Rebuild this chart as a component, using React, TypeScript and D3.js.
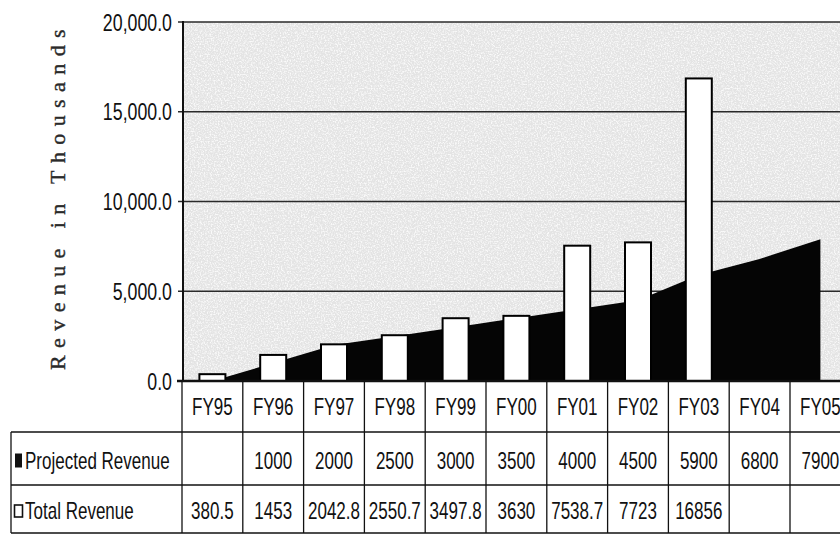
import React from 'react';
import * as d3 from 'd3';

const categories = ['FY95', 'FY96', 'FY97', 'FY98', 'FY99', 'FY00', 'FY01', 'FY02', 'FY03', 'FY04', 'FY05'];
const projectedRevenue: (number | null)[] = [null, 1000, 2000, 2500, 3000, 3500, 4000, 4500, 5900, 6800, 7900];
const totalRevenue: (number | null)[] = [380.5, 1453, 2042.8, 2550.7, 3497.8, 3630, 7538.7, 7723, 16856, null, null];
const yTicks = [0, 5000, 10000, 15000, 20000];
const seriesNames = ['Projected Revenue', 'Total Revenue'];

const W = 840;
const H = 534;
const plot = { left: 183, top: 22, bottom: 381 };
const tableRows = { header: 432, mid: 485, bottom: 533 };
const tableLeft = 11;

// no narrow font installed: squeeze Liberation Sans horizontally instead
const NText: React.FC<{
	x: number;
	y: number;
	anchor?: 'start' | 'middle' | 'end';
	size?: number;
	children: React.ReactNode;
}> = ({ x, y, anchor = 'middle', size = 23, children }) => (
	<text
		transform={`translate(${x},${y}) scale(0.74,1)`}
		dy="0.36em"
		textAnchor={anchor}
		fontFamily='"Liberation Sans", Arial, sans-serif'
		fontSize={size}
		fill="#111"
	>
		{children}
	</text>
);

const App: React.FC = () => {
	const x = d3.scaleBand<string>().domain(categories).range([182, 182 + 60.8 * categories.length]).padding(0);
	const y = d3.scaleLinear().domain([0, 20000]).range([plot.bottom, plot.top]);
	const cx = (c: string) => (x(c) ?? 0) + x.bandwidth() / 2;
	const barW = 26;

	const areaGen = d3
		.area<string>()
		.x((c) => cx(c))
		.y0(y(0))
		.y1((c, i) => y(projectedRevenue[i] ?? 0));

	const fmt = d3.format(',.1f');
	const fmtCell = (v: number | null) => (v === null ? '' : String(v));

	return (
		<div style={{ position: 'absolute', left: 0, top: 0 }}>
			<svg width={W} height={H} style={{ display: 'block', background: '#fff' }}>
				<defs>
					<filter id="grain" x="0" y="0" width="100%" height="100%">
						<feTurbulence type="fractalNoise" baseFrequency="0.7" numOctaves="2" seed="3" result="n" />
						<feColorMatrix
							in="n"
							type="matrix"
							values="0 0 0 0 1  0 0 0 0 1  0 0 0 0 1  0 0 0 3 -1.3"
						/>
					</filter>
				</defs>

				{/* plot background */}
				<rect x={plot.left} y={plot.top} width={W - plot.left} height={plot.bottom - plot.top} fill="#e4e4e4" />
				<rect
					x={plot.left}
					y={plot.top}
					width={W - plot.left}
					height={plot.bottom - plot.top}
					filter="url(#grain)"
					opacity={0.85}
				/>

				{/* gridlines */}
				{yTicks.slice(1).map((t) => (
					<line key={t} x1={plot.left - 5} x2={W} y1={y(t)} y2={y(t)} stroke="#2a2a2a" strokeWidth={1.6} />
				))}

				{/* projected area */}
				<path d={areaGen(categories) ?? ''} fill="#050505" />

				{/* total bars */}
				{categories.map((c, i) => {
					const v = totalRevenue[i];
					if (v === null) return null;
					return (
						<rect
							key={c}
							x={cx(c) - barW / 2}
							y={y(v)}
							width={barW}
							height={y(0) - y(v)}
							fill="#fff"
							stroke="#000"
							strokeWidth={2}
						/>
					);
				})}

				{/* axes */}
				<line x1={plot.left} x2={plot.left} y1={plot.top - 1} y2={plot.bottom} stroke="#111" strokeWidth={2} />
				<line x1={plot.left - 6} x2={W} y1={plot.bottom} y2={plot.bottom} stroke="#111" strokeWidth={2.5} />
				{yTicks.map((t) => (
					<NText key={t} x={plot.left - 11} y={y(t)} anchor="end" size={24}>
						{fmt(t)}
					</NText>
				))}
				<text
					transform="translate(57, 196) rotate(-90)"
					textAnchor="middle"
					dy="0.35em"
					fontFamily='"Liberation Serif", "DejaVu Serif", serif'
					fontSize={22}
					letterSpacing={7.4}
					fill="#2a2a2a"
					stroke="#2a2a2a"
					strokeWidth={0.4}
				>
					Revenue in Thousands
				</text>

				{/* data table */}
				{categories.map((c) => (
					<line
						key={'v' + c}
						x1={x(c) ?? 0}
						x2={x(c) ?? 0}
						y1={plot.bottom}
						y2={tableRows.bottom}
						stroke="#111"
						strokeWidth={1.3}
					/>
				))}
				<line x1={tableLeft} x2={W} y1={tableRows.header} y2={tableRows.header} stroke="#111" strokeWidth={1.3} />
				<line x1={tableLeft} x2={W} y1={tableRows.mid} y2={tableRows.mid} stroke="#111" strokeWidth={1.3} />
				<line x1={tableLeft} x2={W} y1={tableRows.bottom} y2={tableRows.bottom} stroke="#111" strokeWidth={1.3} />
				<line x1={tableLeft} x2={tableLeft} y1={tableRows.header} y2={tableRows.bottom} stroke="#111" strokeWidth={1.3} />

				{categories.map((c) => (
					<NText key={'h' + c} x={cx(c)} y={407}>
						{c}
					</NText>
				))}

				{[projectedRevenue, totalRevenue].map((row, r) => {
					const top = r === 0 ? tableRows.header : tableRows.mid;
					const bot = r === 0 ? tableRows.mid : tableRows.bottom;
					const yc = (top + bot) / 2 + 2;
					return (
						<g key={'row' + r}>
							{r === 0 ? (
								<rect x={15} y={yc - 7} width={7} height={14} fill="#111" />
							) : (
								<rect x={14.5} y={yc - 6} width={8} height={12} fill="#fff" stroke="#111" strokeWidth={1.6} />
							)}
							<NText x={25} y={yc} anchor="start">
								{seriesNames[r]}
							</NText>
							{categories.map((c, i) => (
								<NText key={c} x={cx(c)} y={yc}>
									{fmtCell(row[i])}
								</NText>
							))}
						</g>
					);
				})}
			</svg>
		</div>
	);
};

export default App;
